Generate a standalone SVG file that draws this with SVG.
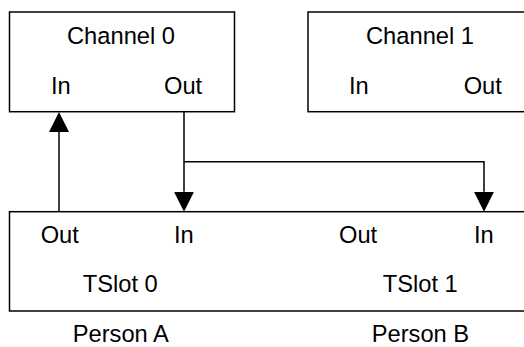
<svg xmlns="http://www.w3.org/2000/svg" width="524" height="347" viewBox="0 0 524 347">
<style>
.box{fill:#fff;stroke:#000;stroke-width:1.5}
.t{font-family:"Liberation Sans",Arial,sans-serif;font-size:23.7px;fill:#000}
.c{fill:none;stroke:#000;stroke-width:1.5}
</style>
<defs>
<marker id="ah" viewBox="0 0 20 20" refX="0" refY="10" markerUnits="userSpaceOnUse" markerWidth="20" markerHeight="20" orient="auto">
<path d="M0,0 L20,10 L0,20 z" fill="#000"/>
</marker>
</defs>
<rect width="524" height="347" fill="#fff"/>
<g id="channel0">
<rect class="box" x="9.5" y="12" width="225" height="99.7"/>
<text class="t" x="67" y="43.5">Channel 0</text>
<text class="t" x="51" y="93.5">In</text>
<text class="t" x="164" y="93.5">Out</text>
</g>
<g id="channel1">
<rect class="box" x="308" y="12" width="230" height="99.7"/>
<text class="t" x="366" y="43.5">Channel 1</text>
<text class="t" x="349" y="93.5">In</text>
<text class="t" x="463.7" y="93.5">Out</text>
</g>
<g id="tslots">
<rect class="box" x="9.5" y="211.7" width="530" height="99.3"/>
<text class="t" x="40.7" y="243.3">Out</text>
<text class="t" x="174" y="243.3">In</text>
<text class="t" x="339" y="243.3">Out</text>
<text class="t" x="474" y="243.3">In</text>
<text class="t" x="82.7" y="291.7">TSlot 0</text>
<text class="t" x="382.7" y="291.7">TSlot 1</text>
</g>
<g id="personA">
<text class="t" x="72.7" y="342">Person A</text>
</g>
<g id="personB">
<text class="t" x="371.7" y="342">Person B</text>
</g>
<g id="connectors">
<path class="c" d="M59,211.7 V132" marker-end="url(#ah)"/>
<path class="c" d="M184,111.7 V191.7" marker-end="url(#ah)"/>
<path class="c" d="M184,161.7 H484 V191.7" marker-end="url(#ah)"/>
</g>
</svg>
